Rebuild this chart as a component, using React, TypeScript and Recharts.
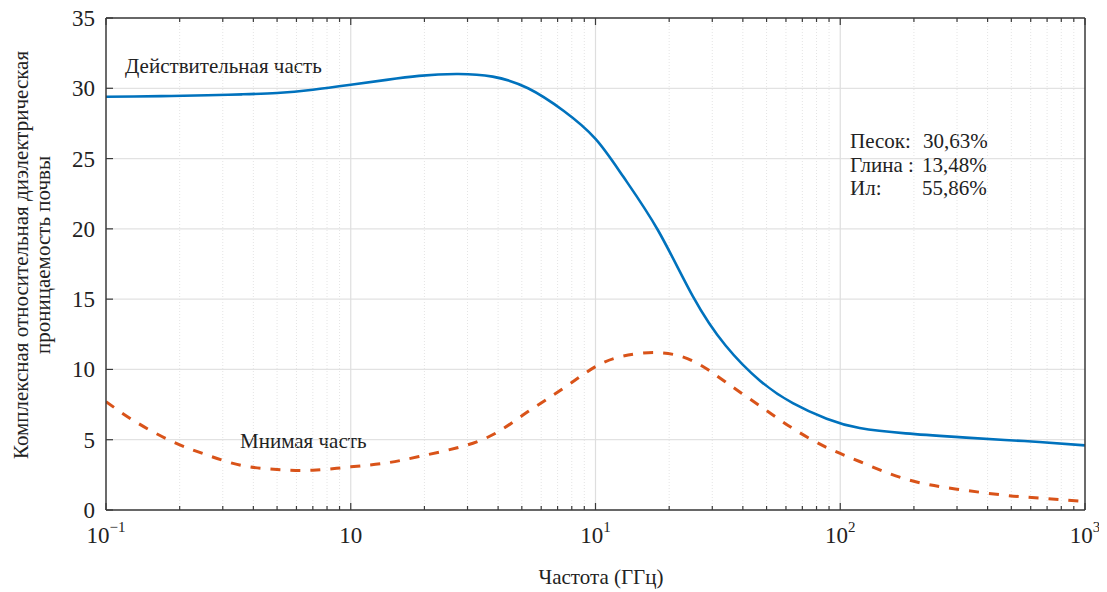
import React from 'react';
import { LineChart, Line, XAxis, YAxis, CartesianGrid, ReferenceLine, Customized } from 'recharts';

// частота, ГГц
const freq = [0.1, 0.13, 0.185, 0.26, 0.36, 0.5, 0.7, 1, 1.4, 1.9, 2.7, 3.8, 5.3, 7.4, 10, 13, 18, 25, 34, 47, 64, 88, 120, 185, 295, 470, 650, 1000];
// действительная часть
const realPart = [29.4, 29.42, 29.45, 29.5, 29.57, 29.67, 29.9, 30.25, 30.6, 30.88, 31.02, 30.83, 30.0, 28.4, 26.4, 23.7, 19.9, 15.2, 11.7, 9.2, 7.6, 6.49, 5.83, 5.45, 5.2, 4.98, 4.84, 4.6];
// мнимая часть
const imagPart = [7.71, 6.35, 4.9, 3.9, 3.16, 2.88, 2.83, 3.07, 3.35, 3.8, 4.41, 5.35, 7.0, 8.66, 10.2, 10.95, 11.2, 10.6, 9.1, 7.4, 5.8, 4.45, 3.45, 2.2, 1.5, 1.05, 0.85, 0.6];

const majorX = [0.1, 1, 10, 100, 1000];
const tickExp = ['−1', '', '1', '2', '3'];
const minorX = [
  0.2, 0.3, 0.4, 0.5, 0.6, 0.7, 0.8, 0.9,
  2, 3, 4, 5, 6, 7, 8, 9,
  20, 30, 40, 50, 60, 70, 80, 90,
  200, 300, 400, 500, 600, 700, 800, 900,
];
const yTicks = [0, 5, 10, 15, 20, 25, 30, 35];

const data = freq.map((f, i) => ({ f, re: realPart[i], im: imagPart[i] }));
const allX = [...majorX, ...minorX].sort((a, b) => a - b);

const FONT = '"Liberation Serif", "Times New Roman", serif';
const AXIS = '#3a3a3a';

const BottomTick = (props: any) => {
  const { x, y, payload } = props;
  const i = majorX.indexOf(payload.value);
  const major = i >= 0;
  return (
    <g>
      <line x1={x} x2={x} y1={y} y2={y - (major ? 7 : 4)} stroke={AXIS} strokeWidth={1.2} />
      {major && (
        <text x={x} y={y + 33} textAnchor="middle" fontSize={23} fontFamily={FONT} fill="#222">
          <tspan>10</tspan>
          {tickExp[i] && <tspan dy={-11} fontSize={15}>{tickExp[i]}</tspan>}
        </text>
      )}
    </g>
  );
};

const TopTick = (props: any) => {
  const { x, y, payload } = props;
  const major = majorX.includes(payload.value);
  return <line x1={x} x2={x} y1={y} y2={y + (major ? 7 : 4)} stroke={AXIS} strokeWidth={1.2} />;
};

const LeftTick = (props: any) => {
  const { x, y, payload } = props;
  return (
    <g>
      <line x1={x} x2={x + 7} y1={y} y2={y} stroke={AXIS} strokeWidth={1.2} />
      <text x={x - 11} y={y + 8} textAnchor="end" fontSize={23} fontFamily={FONT} fill="#222">
        {payload.value}
      </text>
    </g>
  );
};

const RightTick = (props: any) => {
  const { x, y } = props;
  return <line x1={x} x2={x - 7} y1={y} y2={y} stroke={AXIS} strokeWidth={1.2} />;
};

const T = (p: any) => <text fontFamily={FONT} fill="#222" fontSize={21} {...p} />;

const Texts = () => (
  <g>
    <T x={117} y={73}>Действительная часть</T>
    <T x={232} y={448}>Мнимая часть</T>
    <T x={842} y={148}>Песок:</T>
    <T x={915} y={148}>30,63%</T>
    <T x={842} y={172}>Глина :</T>
    <T x={914} y={172}>13,48%</T>
    <T x={842} y={195}>Ил:</T>
    <T x={914} y={195}>55,86%</T>
    <T x={20} y={255} textAnchor="middle" transform="rotate(-90, 20, 255)">
      Комплексная относительная диэлектрическая
    </T>
    <T x={42} y={255} textAnchor="middle" transform="rotate(-90, 42, 255)">
      проницаемость почвы
    </T>
    <T x={593} y={584} textAnchor="middle">Частота (ГГц)</T>
  </g>
);

const App: React.FC = () => {
  return (
    <div style={{ width: 1099, height: 592, marginTop: -8 }}>
      <LineChart width={1099} height={592} data={data} margin={{ top: 12, right: 0, left: 0, bottom: 52 }}>
        <CartesianGrid vertical={false} stroke="#e2e2e2" strokeWidth={1.2} />
        {minorX.map((v) => (
          <ReferenceLine key={'m' + v} x={v} stroke="#e4e4e4" strokeDasharray="1 2" />
        ))}
        {[1, 10, 100].map((v) => (
          <ReferenceLine key={'M' + v} x={v} stroke="#dedede" strokeWidth={1.2} />
        ))}
        <XAxis
          dataKey="f"
          type="number"
          scale="log"
          domain={[0.1, 1000]}
          allowDataOverflow
          ticks={allX}
          interval={0}
          tickSize={0}
          tickMargin={0}
          tickLine={false}
          tick={<BottomTick />}
          height={30}
          stroke={AXIS}
          strokeWidth={1.5}
        />
        <XAxis
          xAxisId="top"
          orientation="top"
          dataKey="f"
          type="number"
          scale="log"
          domain={[0.1, 1000]}
          allowDataOverflow
          ticks={allX}
          interval={0}
          tickSize={0}
          tickMargin={0}
          tickLine={false}
          tick={<TopTick />}
          height={6}
          stroke={AXIS}
          strokeWidth={1.5}
        />
        <YAxis
          type="number"
          domain={[0, 35]}
          ticks={yTicks}
          interval={0}
          tickSize={0}
          tickMargin={0}
          tickLine={false}
          tick={<LeftTick />}
          width={98}
          stroke={AXIS}
          strokeWidth={1.5}
        />
        <YAxis
          yAxisId="right"
          orientation="right"
          type="number"
          domain={[0, 35]}
          ticks={yTicks}
          interval={0}
          tickSize={0}
          tickMargin={0}
          tickLine={false}
          tick={<RightTick />}
          width={22}
          stroke={AXIS}
          strokeWidth={1.5}
        />
        <Line
          type="natural"
          dataKey="re"
          stroke="#0072BD"
          strokeWidth={2.6}
          dot={false}
          activeDot={false}
          isAnimationActive={false}
        />
        <Line
          type="natural"
          dataKey="im"
          stroke="#D95319"
          strokeWidth={3}
          strokeDasharray="10 10"
          dot={false}
          activeDot={false}
          isAnimationActive={false}
        />
        <Customized component={Texts} />
      </LineChart>
    </div>
  );
};

export default App;
